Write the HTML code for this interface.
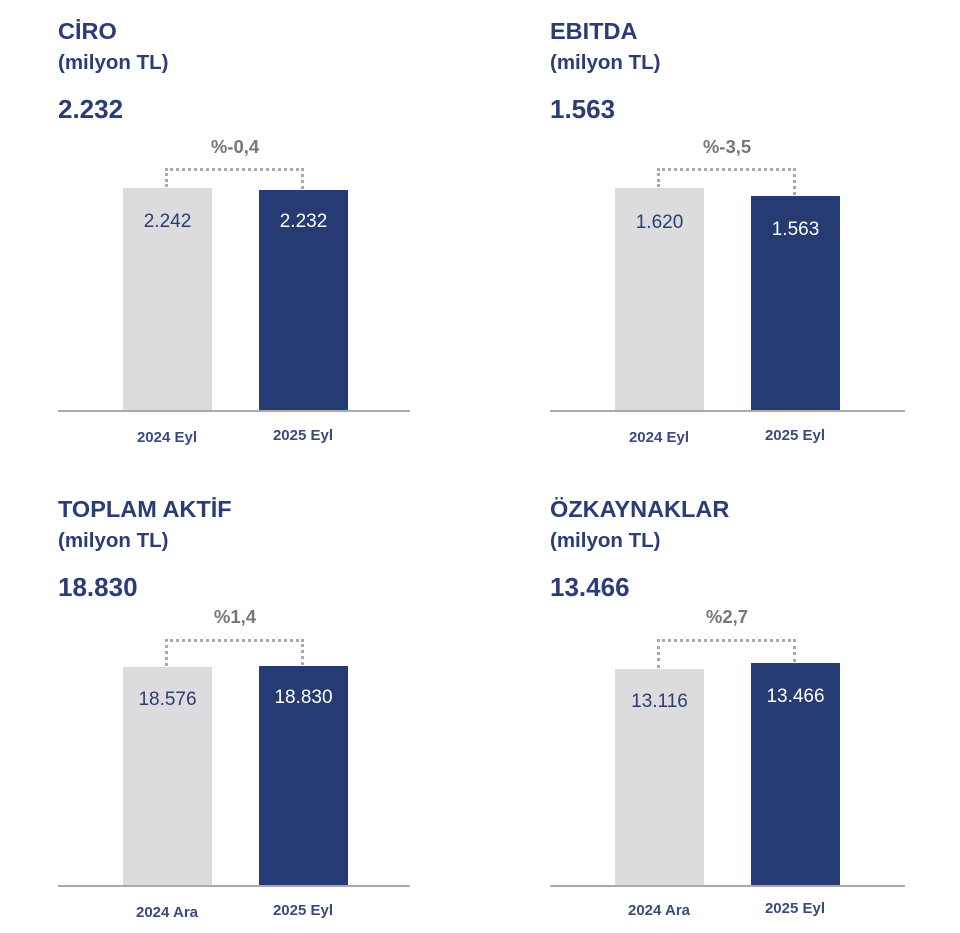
<!DOCTYPE html>
<html><head><meta charset="utf-8"><style>
body{margin:0;width:960px;height:933px;background:#fff;position:relative;overflow:hidden;font-family:"Liberation Sans",sans-serif}
.a{position:absolute}
.t{font-weight:bold;font-size:23.5px;color:#2b3c77}
.u{font-size:20.5px;color:#2b3c77;font-weight:bold}
.v{font-weight:bold;font-size:26px;color:#2b3c77}
.p{font-size:18.5px;font-weight:bold;color:#777;width:140px;text-align:center}
.g{background:#dcdcde}
.n{background:#263a73}
.bl{height:2px;background:#aaa}
.val{font-size:19px;width:89px;text-align:center}
.lab{font-size:15px;font-weight:bold;color:#3b4a7e;width:110px;text-align:center}
.dh{border-top:3px dotted #aaa;height:0}
.dv{border-left:3px dotted #aaa;width:0}
</style></head><body>
<!-- panel 1 -->
<div class="a t" style="left:58px;top:18px">CİRO</div>
<div class="a u" style="left:58px;top:51px">(milyon TL)</div>
<div class="a v" style="left:58px;top:94px">2.232</div>
<div class="a p" style="left:165px;top:136px">%-0,4</div>
<div class="a dh" style="left:165px;top:168px;width:139px"></div>
<div class="a dv" style="left:165px;top:168px;height:19px"></div>
<div class="a dv" style="left:301px;top:168px;height:21px"></div>
<div class="a g" style="left:123px;top:188px;width:89px;height:223px"></div>
<div class="a n" style="left:259px;top:190px;width:89px;height:221px"></div>
<div class="a val" style="left:123px;top:211px;color:#2b3c77">2.242</div>
<div class="a val" style="left:259px;top:211px;color:#fff">2.232</div>
<div class="a bl" style="left:58px;top:410px;width:352px"></div>
<div class="a lab" style="left:112px;top:429px">2024 Eyl</div>
<div class="a lab" style="left:248px;top:427px">2025 Eyl</div>
<!-- panel 2 -->
<div class="a t" style="left:550px;top:18px">EBITDA</div>
<div class="a u" style="left:550px;top:51px">(milyon TL)</div>
<div class="a v" style="left:550px;top:94px">1.563</div>
<div class="a p" style="left:657px;top:136px">%-3,5</div>
<div class="a dh" style="left:657px;top:168px;width:139px"></div>
<div class="a dv" style="left:657px;top:168px;height:19px"></div>
<div class="a dv" style="left:793px;top:168px;height:27px"></div>
<div class="a g" style="left:615px;top:188px;width:89px;height:223px"></div>
<div class="a n" style="left:751px;top:196px;width:89px;height:215px"></div>
<div class="a val" style="left:615px;top:212px;color:#2b3c77">1.620</div>
<div class="a val" style="left:751px;top:219px;color:#fff">1.563</div>
<div class="a bl" style="left:550px;top:410px;width:355px"></div>
<div class="a lab" style="left:604px;top:429px">2024 Eyl</div>
<div class="a lab" style="left:740px;top:427px">2025 Eyl</div>
<!-- panel 3 -->
<div class="a t" style="left:58px;top:496px">TOPLAM AKTİF</div>
<div class="a u" style="left:58px;top:529px">(milyon TL)</div>
<div class="a v" style="left:58px;top:572px">18.830</div>
<div class="a p" style="left:165px;top:606px">%1,4</div>
<div class="a dh" style="left:165px;top:639px;width:139px"></div>
<div class="a dv" style="left:165px;top:639px;height:27px"></div>
<div class="a dv" style="left:301px;top:639px;height:26px"></div>
<div class="a g" style="left:123px;top:667px;width:89px;height:219px"></div>
<div class="a n" style="left:259px;top:666px;width:89px;height:220px"></div>
<div class="a val" style="left:123px;top:689px;color:#2b3c77">18.576</div>
<div class="a val" style="left:259px;top:687px;color:#fff">18.830</div>
<div class="a bl" style="left:58px;top:885px;width:352px"></div>
<div class="a lab" style="left:112px;top:904px">2024 Ara</div>
<div class="a lab" style="left:248px;top:902px">2025 Eyl</div>
<!-- panel 4 -->
<div class="a t" style="left:550px;top:496px">ÖZKAYNAKLAR</div>
<div class="a u" style="left:550px;top:529px">(milyon TL)</div>
<div class="a v" style="left:550px;top:572px">13.466</div>
<div class="a p" style="left:657px;top:606px">%2,7</div>
<div class="a dh" style="left:657px;top:639px;width:139px"></div>
<div class="a dv" style="left:657px;top:639px;height:29px"></div>
<div class="a dv" style="left:793px;top:639px;height:23px"></div>
<div class="a g" style="left:615px;top:669px;width:89px;height:217px"></div>
<div class="a n" style="left:751px;top:663px;width:89px;height:223px"></div>
<div class="a val" style="left:615px;top:691px;color:#2b3c77">13.116</div>
<div class="a val" style="left:751px;top:686px;color:#fff">13.466</div>
<div class="a bl" style="left:550px;top:885px;width:355px"></div>
<div class="a lab" style="left:604px;top:902px">2024 Ara</div>
<div class="a lab" style="left:740px;top:900px">2025 Eyl</div>
</body></html>
